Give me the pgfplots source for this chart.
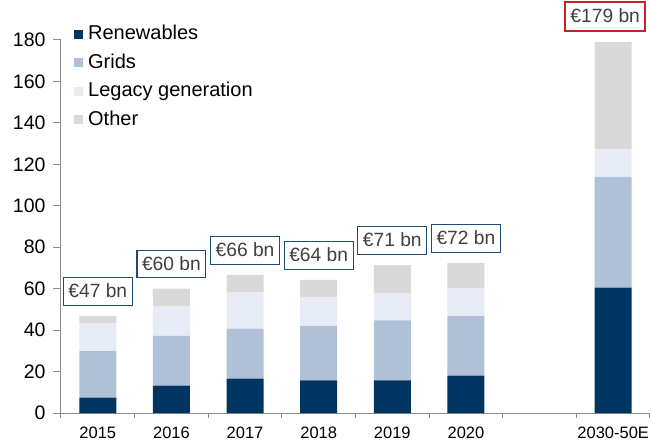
\documentclass[border=0pt]{standalone}
\usepackage{pgfplots}
\pgfplotsset{compat=1.18}
\usepackage{pgfplotstable}
\usepackage{fontspec}
\setmainfont{Liberation Sans}
\definecolor{renew}{HTML}{003562}
\definecolor{grids}{HTML}{AFC0D7}
\definecolor{legacy}{HTML}{E6EBF5}
\definecolor{other}{HTML}{D9D9D9}
\definecolor{boxblue}{HTML}{1F4A78}
\definecolor{boxred}{HTML}{C8202C}
\definecolor{lblgray}{HTML}{404040}
\definecolor{axgray}{HTML}{8C8C8C}
\pgfplotstableread{
x R G L O lbl
0 7.4 22.4 13.6 3.4 47
1 13.2 24.0 14.4 8.4 60
2 16.6 24.1 17.4 8.5 66
3 15.8 26.2 14.0 8.2 64
4 15.8 28.9 13.2 13.5 71
5 18.0 28.8 13.2 12.4 72
7 60.5 53.5 13.4 51.6 179
}\datatable
\setlength{\fboxsep}{4.5bp}
\setlength{\fboxrule}{1.2bp}
\newcommand{\lblstrut}{\rule[-2.5bp]{0pt}{17.5bp}}
\begin{document}
\begin{tikzpicture}
\path[use as bounding box] (-61bp,-30bp) rectangle (590bp,413bp);
\begin{axis}[
  at={(0,0)}, anchor=south west,
  scale only axis, width=589bp, height=373bp,
  xmin=-0.5, xmax=7.5, ymin=0, ymax=180,
  ybar stacked, bar width=37bp,
  axis lines*=left,
  axis line style={axgray, line width=1bp},
  clip=false,
  xtick={0,1,2,3,4,5,7},
  xticklabels={2015,2016,2017,2018,2019,2020,2030-50E},
  minor xtick={-0.5,0.5,...,7.5},
  major x tick style={draw=none},
  minor x tick style={axgray, line width=1bp},
  minor tick length=5bp,
  ytick={0,20,...,180},
  major y tick style={axgray, line width=1bp},
  major tick length=8bp,
  tick align=outside,
  x tick label style={font=\fontsize{16.5bp}{20bp}\selectfont, yshift=-2bp},
  y tick label style={font=\fontsize{19.5bp}{22bp}\selectfont, xshift=-4bp},
  /pgf/number format/assume math mode=true,
  legend style={at={(0.022,1.05)}, anchor=north west, draw=none, fill=none,
    font=\fontsize{20bp}{23bp}\selectfont, inner sep=0pt,
    row sep=3.5bp, column sep=2bp,
    nodes={text height=15bp, text depth=4bp, inner ysep=3bp, inner xsep=3bp}},
  legend cell align=left,
  legend image code/.code={\fill[#1] (0bp,-4.5bp) rectangle (9bp,4.5bp);},
]
\addplot[fill=renew, draw=none] table[x=x, y=R] {\datatable};
\addplot[fill=grids, draw=none] table[x=x, y=G] {\datatable};
\addplot[fill=legacy, draw=none] table[x=x, y=L] {\datatable};
\addplot[fill=other, draw=none,
  point meta=explicit symbolic,
  visualization depends on={\thisrow{O} \as \oval},
  nodes near coords={\ifnum\pgfplotspointmeta>100\relax\setlength{\fboxrule}{2bp}\hbox{\fcolorbox{boxred}{white}{\lblstrut\textcolor{lblgray}{€\pgfplotspointmeta\ bn}}\kern16bp}\else\fcolorbox{boxblue}{white}{\lblstrut\textcolor{lblgray}{€\pgfplotspointmeta\ bn}}\fi},
  every node near coord/.append style={anchor=south, yshift={(10+\oval*1.0361)*1bp}, inner sep=0pt, font=\fontsize{19.2bp}{22bp}\selectfont}
  ] table[x=x, y=O, meta=lbl] {\datatable};
\legend{Renewables, Grids, Legacy generation, Other}
\end{axis}
\end{tikzpicture}
\end{document}
